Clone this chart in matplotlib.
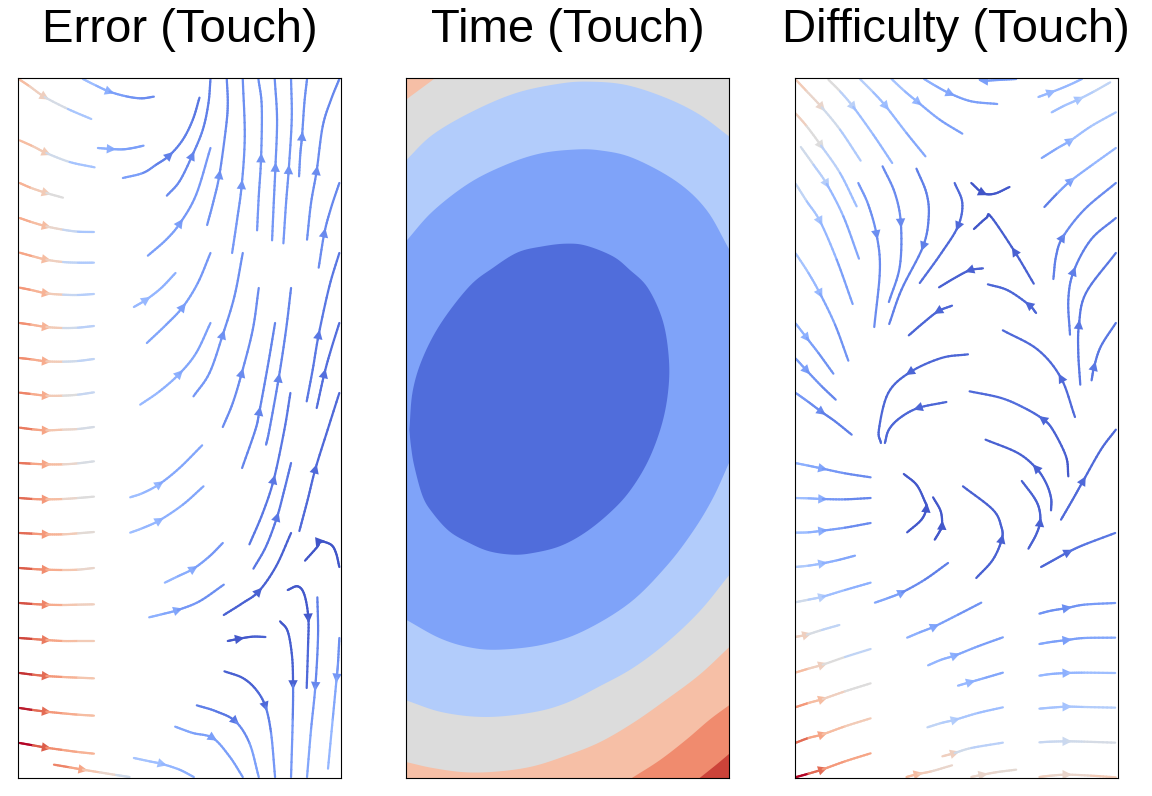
import numpy as np
import matplotlib
matplotlib.use('Agg')
import matplotlib.pyplot as plt
from matplotlib.collections import LineCollection
from matplotlib.patches import FancyArrowPatch

plt.rcParams['font.family'] = ['Liberation Sans', 'DejaVu Sans']

titles = ['Error (Touch)', 'Time (Touch)', 'Difficulty (Touch)']

# every stream line: points along the flow, coolwarm value per piece, index of the arrow point
error_lines = [
	([(30,30),(60,50),(105,82),(175,118),(245,148)], [.65,.58,.47,.33], 2),
	([(30,212),(70,230),(110,250),(180,277),(255,293)], [.65,.6,.45,.32], 2),
	([(30,340),(65,355),(110,370),(160,384)], [.68,.6,.5], 2),
	([(30,445),(65,457),(110,470),(160,480),(205,486),(253,487)], [.7,.65,.55,.42,.33], 2),
	([(30,549),(70,560),(110,570),(160,577),(205,579),(253,579)], [.72,.65,.58,.4,.35], 2),
	([(30,654),(65,661),(110,671),(160,675),(205,676),(253,673)], [.75,.68,.6,.42,.37], 2),
	([(30,760),(65,765),(110,772),(160,775),(205,774),(253,769)], [.77,.68,.6,.45,.38], 2),
	([(30,865),(65,869),(110,875),(160,876),(205,874),(253,868)], [.78,.7,.6,.45,.4], 2),
	([(30,969),(65,973),(110,978),(160,978),(205,975),(253,968)], [.8,.7,.6,.5,.42], 2),
	([(30,1074),(70,1079),(110,1082),(160,1080),(205,1078),(253,1072)], [.82,.72,.62,.55,.47], 2),
	([(30,1180),(65,1182),(110,1184),(160,1184),(205,1181),(253,1175)], [.83,.72,.65,.55,.48], 2),
	([(30,1285),(70,1288),(110,1289),(160,1288),(205,1285),(253,1281)], [.85,.75,.65,.55,.5], 2),
	([(30,1390),(70,1392),(110,1394),(160,1394),(205,1391),(253,1387)], [.85,.75,.68,.6,.52], 2),
	([(30,1495),(70,1498),(110,1500),(160,1501),(205,1500),(253,1495)], [.88,.78,.7,.62,.55], 2),
	([(30,1600),(70,1603),(110,1605),(160,1606),(205,1605),(253,1604)], [.9,.8,.7,.62,.58], 2),
	([(30,1705),(70,1708),(110,1711),(160,1714),(205,1714),(253,1714)], [.92,.82,.72,.65,.6], 2),
	([(30,1810),(70,1815),(110,1819),(160,1822),(205,1824),(253,1826)], [.95,.85,.75,.68,.62], 2),
	([(30,1915),(70,1921),(110,1926),(160,1931),(205,1935),(253,1938)], [.98,.85,.75,.7,.65], 2),
	([(30,2020),(70,2027),(110,2034),(160,2041),(205,2047),(253,2052)], [1,.88,.78,.72,.68], 2),
	([(133,2085),(180,2093),(220,2100),(270,2108),(320,2116),(360,2122)], [.8,.72,.62,.55,.45], 2),
	([(220,28),(260,48),(300,66),(350,80),(395,86),(433,81)], [.3,.25,.2,.17,.15], 2),
	([(265,235),(305,238),(340,239),(370,235),(402,228)], [.25,.22,.2,.2], 1),
	([(340,325),(400,310),(440,285),(480,257),(520,210),(550,150),(570,84)], [.2,.15,.12,.12,.12,.1], 3),
	([(472,378),(510,335),(548,258),(580,180),(597,100),(603,28)], [.15,.14,.13,.12,.12], 2),
	([(593,466),(612,395),(630,315),(650,170),(655,100),(652,28)], [.17,.17,.15,.14,.14], 2),
	([(415,558),(470,510),(512,460),(560,375),(603,235)], [.2,.2,.18,.18], 2),
	([(668,550),(683,450),(697,345),(706,200),(700,28)], [.18,.17,.17,.16], 2),
	([(743,482),(748,380),(755,265),(757,110),(747,28)], [.18,.17,.17,.16], 2),
	([(788,512),(793,400),(798,293),(803,150),(796,28)], [.18,.17,.17,.16], 2),
	([(822,521),(830,400),(838,300),(847,150),(845,28)], [.18,.17,.17,.17], 2),
	([(869,320),(873,250),(878,200),(885,100),(893,28)], [.17,.16,.16,.16], 2),
	([(893,510),(905,400),(922,303),(940,170),(965,90),(990,28)], [.16,.15,.15,.14,.14], 2),
	([(928,594),(945,490),(965,415),(990,340)], [.15,.14,.14], 1),
	([(373,712),(410,690),(455,655),(498,610)], [.28,.27,.25], 1),
	([(412,820),(470,765),(520,712),(565,640),(603,550)], [.22,.2,.2,.18], 2),
	([(392,1005),(450,965),(510,912),(560,850),(603,760)], [.28,.25,.22,.2], 2),
	([(552,980),(600,910),(640,795),(675,680),(700,550)], [.18,.17,.16,.16], 2),
	([(640,1072),(670,1000),(697,910),(730,780),(748,655)], [.15,.15,.15,.15], 2),
	([(698,1195),(738,1080),(750,1025),(775,890),(797,760)], [.13,.13,.13,.13], 2),
	([(770,1125),(780,1080),(808,925),(830,780),(845,655)], [.13,.13,.13,.13], 2),
	([(720,1424),(760,1330),(793,1230),(825,1080),(843,970)], [.1,.1,.1,.1], 2),
	([(892,995),(910,900),(928,795),(960,650),(990,550)], [.1,.1,.1,.1], 2),
	([(922,1015),(945,912),(965,840),(990,760)], [.08,.08,.08], 1),
	([(870,1384),(895,1290),(918,1198),(955,1080),(990,970)], [.07,.07,.07,.07], 2),
	([(732,1497),(770,1430),(803,1342),(825,1260),(845,1180)], [.1,.1,.1,.1], 2),
	([(362,1283),(400,1270),(450,1243),(510,1195),(578,1127)], [.3,.27,.23,.22], 2),
	([(362,1389),(400,1375),(450,1352),(520,1305),(582,1250)], [.3,.27,.25,.22], 2),
	([(466,1539),(505,1520),(552,1497),(600,1460),(640,1420)], [.27,.24,.2,.18], 2),
	([(419,1643),(460,1633),(505,1621),(570,1595),(643,1545)], [.25,.22,.18,.16], 2),
	([(643,1636),(700,1600),(748,1565),(800,1490),(845,1390)], [.05,.05,.05,.05], 2),
	([(887,1473),(925,1430),(932,1415),(965,1425),(980,1450),(990,1492)], [.02,.02,.02,.02,.02], 2),
	([(835,1561),(865,1550),(885,1575),(897,1645),(896,1730),(892,1855)], [.03,.03,.03,.05,.07], 3),
	([(924,1583),(926,1700),(918,1850),(905,1980),(893,2122)], [.12,.14,.18,.22], 2),
	([(812,1655),(835,1685),(848,1760),(851,1845),(850,1950),(845,2122)], [.03,.04,.05,.12,.18], 3),
	([(990,1705),(986,1780),(982,1825),(970,1950),(956,2097)], [.16,.18,.22,.27], 2),
	([(655,1714),(690,1707),(730,1701),(768,1702)], [.03,.03,.05], 1),
	([(645,1805),(700,1825),(740,1860),(768,1910),(785,1990),(797,2122)], [.05,.05,.07,.12,.18], 3),
	([(562,1907),(620,1925),(678,1955),(720,2020),(748,2122)], [.12,.1,.15,.2], 2),
	([(497,1971),(550,1990),(610,2005),(660,2060),(700,2122)], [.22,.2,.2,.2], 2),
	([(373,2065),(420,2075),(458,2083),(510,2100),(553,2122)], [.32,.3,.27,.25], 2),
]

difficulty_lines = [
	([(32,30),(65,65),(110,113),(165,180),(227,273)], [.6,.55,.45,.35], 2),
	([(32,132),(65,170),(108,228),(165,310),(215,410)], [.58,.5,.38,.3], 2),
	([(130,30),(165,65),(205,112),(265,195),(322,280)], [.5,.38,.3,.27], 2),
	([(225,28),(265,68),(303,110),(365,190),(422,260)], [.37,.3,.27,.23], 2),
	([(320,28),(360,65),(400,98),(465,150),(533,192)], [.32,.27,.23,.2], 2),
	([(418,28),(455,50),(497,72),(560,95),(638,103)], [.25,.23,.2,.2], 2),
	([(695,28),(640,31),(597,33),(585,28)], [.2,.2,.2], 2),
	([(47,232),(85,285),(125,343),(175,440),(222,567)], [.45,.37,.28,.22], 2),
	([(32,343),(65,395),(105,455),(155,570),(203,703)], [.4,.32,.27,.2], 2),
	([(32,552),(70,610),(105,672),(150,765),(190,873)], [.32,.28,.22,.17], 2),
	([(220,340),(250,405),(275,495),(285,600),(268,772)], [.18,.16,.15,.15], 2),
	([(293,290),(330,370),(348,460),(345,590),(312,697)], [.15,.15,.14,.14], 2),
	([(395,297),(425,370),(432,440),(415,530),(350,660),(313,763)], [.12,.12,.12,.12,.12], 3),
	([(510,340),(533,400),(520,470),(470,550),(405,640)], [.07,.07,.07,.08], 2),
	([(560,340),(595,370),(630,372),(675,352)], [.02,.02,.03], 1),
	([(748,642),(690,545),(620,442),(605,445),(568,478)], [.05,.04,.02,.02], 1),
	([(595,596),(555,602),(510,625),(463,653)], [.05,.05,.05], 1),
	([(755,730),(733,705),(670,662),(610,644)], [.06,.06,.06], 1),
	([(502,708),(460,725),(415,760),(372,797)], [.06,.06,.06], 1),
	([(550,854),(470,865),(375,908),(310,970),(282,1080),(288,1120)], [.06,.06,.06,.06,.06], 2),
	([(485,997),(400,1015),(345,1045),(312,1080),(300,1120)], [.06,.06,.06,.06], 1),
	([(872,1042),(830,925),(760,840),(655,782)], [.07,.07,.07], 1),
	([(852,1220),(845,1160),(805,1080),(775,1048),(720,1015),(650,985),(555,965)], [.03,.05,.06,.07,.08,.07], 3),
	([(807,628),(815,560),(835,503),(900,420),(995,340)], [.12,.12,.15,.15], 2),
	([(857,795),(852,690),(868,605),(920,510),(995,445)], [.12,.12,.12,.12], 2),
	([(888,945),(882,850),(884,765),(905,670),(995,550)], [.1,.1,.1,.1], 2),
	([(922,932),(930,890),(950,830),(995,760)], [.1,.1,.1], 1),
	([(772,265),(820,235),(858,213),(920,170),(995,128)], [.22,.25,.3,.33], 2),
	([(780,412),(820,370),(860,333),(925,285),(995,235)], [.12,.2,.25,.28], 2),
	([(762,82),(800,68),(850,48),(893,28)], [.28,.28,.28], 1),
	([(802,128),(840,108),(885,88),(930,65),(978,38)], [.3,.32,.36,.4], 2),
	([(32,762),(65,805),(100,850),(145,912)], [.25,.2,.17], 1),
	([(32,867),(65,903),(110,950),(152,990)], [.2,.17,.14], 1),
	([(32,970),(70,997),(110,1027),(150,1055),(200,1095)], [.18,.15,.12,.12], 2),
	([(30,1180),(70,1188),(113,1197),(180,1211),(257,1223)], [.25,.22,.18,.15], 2),
	([(30,1285),(70,1286),(113,1288),(180,1289),(257,1285)], [.3,.25,.18,.14], 2),
	([(30,1389),(70,1388),(113,1383),(180,1374),(257,1360)], [.3,.25,.2,.15], 2),
	([(30,1492),(70,1488),(113,1481),(160,1471),(210,1458)], [.35,.3,.25,.22], 2),
	([(30,1598),(70,1590),(113,1581),(180,1561),(257,1539)], [.45,.37,.3,.25], 2),
	([(30,1702),(65,1695),(110,1681),(163,1666)], [.58,.48,.4], 1),
	([(30,1809),(70,1797),(113,1785),(180,1762),(257,1738)], [.65,.58,.5,.4], 2),
	([(30,1913),(70,1900),(113,1888),(180,1865),(257,1841)], [.75,.65,.58,.5], 2),
	([(30,2020),(70,2005),(113,1994),(180,1970),(257,1946)], [.85,.72,.65,.6], 2),
	([(30,2123),(70,2112),(113,2099),(180,2075),(257,2051)], [1,.85,.75,.72], 2),
	([(367,1388),(410,1350),(425,1315),(418,1290),(395,1245),(357,1213)], [.03,.03,.03,.03,.03], 2),
	([(450,1410),(465,1385),(472,1367),(468,1325),(445,1283)], [.03,.03,.03,.03], 2),
	([(575,1525),(625,1470),(652,1408),(650,1370),(625,1320),(535,1250)], [.05,.05,.05,.05,.05], 2),
	([(732,1437),(755,1395),(767,1358),(765,1320),(750,1285),(712,1234)], [.05,.05,.05,.05,.05], 2),
	([(800,1322),(800,1285),(785,1240),(755,1195),(700,1150),(603,1110)], [.05,.05,.05,.05,.05], 3),
	([(830,1350),(865,1290),(897,1233),(950,1140),(995,1080)], [.07,.07,.07,.07], 2),
	([(770,1492),(810,1470),(852,1447),(900,1425),(993,1390)], [.06,.07,.09,.1], 2),
	([(270,1599),(310,1585),(352,1568),(420,1530),(490,1480)], [.22,.2,.15,.12], 2),
	([(367,1704),(405,1688),(450,1670),(520,1635),(590,1599)], [.25,.22,.2,.17], 2),
	([(430,1787),(470,1770),(512,1757),(580,1730),(655,1703)], [.27,.25,.22,.2], 2),
	([(520,1848),(558,1837),(600,1825),(655,1809)], [.28,.25,.22], 1),
	([(428,1973),(470,1960),(512,1950),(580,1930),(655,1913)], [.4,.36,.33,.3], 2),
	([(473,2060),(510,2050),(560,2035),(655,2019)], [.58,.45,.38], 1),
	([(365,2122),(400,2113),(440,2105),(502,2087)], [.65,.6,.55], 1),
	([(560,2122),(595,2115),(640,2107),(695,2100)], [.55,.55,.53], 1),
	([(765,2122),(800,2118),(848,2115),(920,2118),(995,2123)], [.58,.55,.55,.6], 2),
	([(765,1632),(800,1623),(848,1615),(900,1605),(993,1600)], [.17,.16,.17,.19], 2),
	([(765,1723),(800,1717),(848,1711),(900,1705),(993,1704)], [.22,.2,.2,.22], 2),
	([(765,1818),(800,1813),(848,1810),(900,1809),(993,1810)], [.27,.25,.27,.3], 2),
	([(765,1917),(800,1914),(848,1911),(900,1912),(993,1914)], [.32,.32,.33,.36], 2),
	([(765,2018),(800,2016),(848,2015),(900,2016),(993,2019)], [.42,.43,.45,.47], 2),
]

# bands of the time panel: colour and the edges of the band, drawn on top of the gray band
time_background = '#dcdcdc'
time_bands = [
	('#f6bfa6', [[(20,25),(108,25)], [(108,25),(20,90)]]),
	('#b2ccfb', [[(20,272),(100,195),(220,125),(350,70),(480,42),(570,36),(680,46),(800,85),(900,135),(988,200)],
		[(988,1517),(900,1625),(800,1720),(700,1795),(600,1850),(500,1900),(400,1928),(260,1942),(130,1928),(20,1892)]]),
	('#7fa3f9', [[(20,515),(100,425),(210,340),(320,285),(420,252),(520,240),(600,242),(700,265),(830,335),(920,420),(988,538)],
		[(988,1180),(940,1285),(880,1385),(800,1490),(690,1600),(550,1685),(430,1725),(300,1740),(210,1733),(120,1705),(20,1650)]]),
	('#506ddb', [[(30,1080),(40,965),(70,865),(125,760),(210,650),(280,595),(355,548),(430,530),(500,522),(560,528),(640,560),
		(690,600),(745,655),(790,755),(808,870),(805,970),(785,1070),(745,1175),(690,1265),(630,1330),(555,1390),(480,1430),
		(400,1450),(340,1455),(270,1445),(210,1420),(150,1385),(100,1330),(70,1280),(45,1190),(35,1130),(30,1080)]]),
	('#f6bfa6', [[(20,2077),(100,2095),(200,2108),(300,2105),(400,2090),(500,2058),(600,2018),(700,1960),(800,1890),(900,1815),(988,1733)],
		[(988,2125),(20,2125)]]),
	('#f08b6e', [[(697,2125),(780,2072),(860,2010),(930,1950),(988,1907)], [(988,2125),(697,2125)]]),
	('#cc4339', [[(900,2125),(950,2085),(988,2053)], [(988,2125),(900,2125)]]),
]

panel_left = [18, 406, 794.5]
panel_xlim = [(25,995), (20,988), (28,1000)]


def smooth(pts, n=8):
	# catmull-rom through the read points, gives n pieces for each segment
	pts = np.array(pts, dtype=float)
	if len(pts) < 3:
		return pts
	p = np.vstack([2*pts[0]-pts[1], pts, 2*pts[-1]-pts[-2]])
	out = []
	for i in range(1, len(p)-2):
		for t in np.arange(n)/n:
			out.append(0.5*(2*p[i] + (p[i+1]-p[i-1])*t + (2*p[i-1]-5*p[i]+4*p[i+1]-p[i+2])*t**2
				+ (3*p[i]-p[i-1]-3*p[i+1]+p[i+2])*t**3))
	out.append(pts[-1])
	return np.array(out)


def draw_stream(ax, lines):
	n = 8
	for pts, vals, arrow in lines:
		pts = np.array(pts, dtype=float)
		curve = smooth(pts, n)
		segs = np.stack([curve[:-1], curve[1:]], axis=1)
		lc = LineCollection(segs, colors=plt.cm.coolwarm(np.repeat(vals, n)), linewidths=1.6, capstyle='round')
		ax.add_collection(lc)
		# direction of the curve at the arrow point
		k = arrow*n
		d = curve[k+1] - curve[k-1]
		d = d/np.linalg.norm(d)
		col = plt.cm.coolwarm(vals[arrow-1])
		a = FancyArrowPatch(curve[k]-30*d, curve[k]+15*d, arrowstyle='-|>', mutation_scale=17,
			lw=0, color=col, shrinkA=0, shrinkB=0)
		ax.add_patch(a)


def draw_time(ax):
	ax.set_facecolor(time_background)
	for col, edges in time_bands:
		poly = np.vstack([smooth(e) for e in edges])
		ax.fill(poly[:,0], poly[:,1], color=col, lw=0)


def main():
	W, H = 1152, 796
	fig = plt.figure(figsize=(W/100, H/100), dpi=100)
	for i in range(3):
		ax = fig.add_axes([panel_left[i]/W, (H-778)/H, 323/W, 700/H])
		ax.set_xlim(panel_xlim[i])
		ax.set_ylim(2125, 25)
		ax.set_xticks([])
		ax.set_yticks([])
		if i == 0:
			draw_stream(ax, error_lines)
		elif i == 1:
			draw_time(ax)
		else:
			draw_stream(ax, difficulty_lines)
		ax.set_title(titles[i], fontsize=34, pad=26)
	plt.savefig('out.png', dpi=100)


if __name__ == '__main__':
	main()
